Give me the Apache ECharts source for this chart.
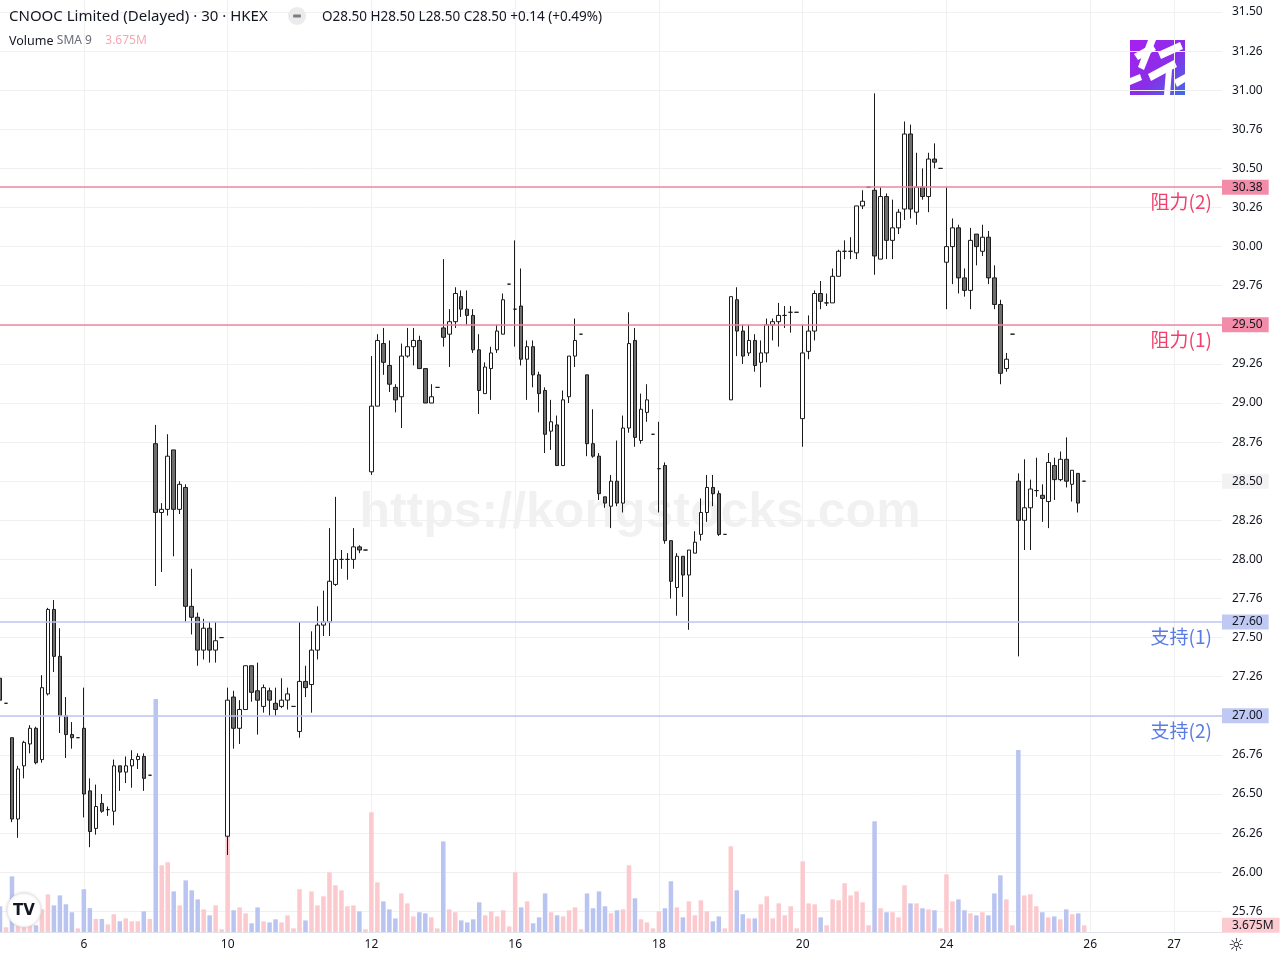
<!DOCTYPE html>
<html>
<head>
<meta charset="utf-8">
<title>CNOOC Limited (Delayed) · 30 · HKEX</title>
<script src="https://cdn.jsdelivr.net/npm/echarts@6/dist/echarts.min.js"></script>
<style>
  html, body { margin: 0; padding: 0; background: #fff; }
  #chart { width: 1280px; height: 960px; }
</style>
</head>
<body>
<div id="chart"></div>
<script>
// 30-minute bars, oldest first
const opens = [
  27.24,27.08,26.86,26.34,26.68,26.82,26.92,26.72,27.14,27.68,
  27.38,27.00,26.88,26.86,26.92,26.52,26.28,26.44,26.40,26.39,
  26.68,26.64,26.68,26.72,26.74,26.62,28.74,28.30,28.32,28.70,
  28.32,28.46,27.70,27.63,27.42,27.56,27.42,27.50,26.23,27.12,
  26.92,27.04,27.32,27.16,27.06,27.16,27.08,27.06,27.10,27.06,
  26.90,27.22,27.20,27.42,27.58,27.60,27.84,28.00,28.00,28.00,
  28.08,28.06,28.56,28.98,29.38,29.24,29.10,29.04,29.30,29.36,
  29.40,29.22,29.00,29.10,29.48,29.44,29.52,29.68,29.60,29.56,
  29.34,29.06,29.22,29.34,29.44,29.76,29.60,29.62,29.28,29.36,
  29.18,29.08,28.82,28.86,28.60,29.04,29.30,29.44,29.18,28.74,
  28.66,28.40,28.34,28.50,28.36,28.84,29.40,28.76,28.94,28.80,
  28.58,28.60,28.12,27.82,28.02,27.90,28.04,28.16,28.30,28.46,
  28.42,28.16,29.02,29.66,29.46,29.32,29.40,29.26,29.32,29.50,
  29.52,29.56,29.58,29.58,28.90,29.33,29.46,29.70,29.64,29.64,
  29.81,29.97,29.97,29.96,30.26,30.38,30.36,29.92,30.32,30.04,
  30.12,30.24,30.72,30.22,30.38,30.32,30.56,30.50,29.90,30.00,
  30.12,29.80,29.72,30.08,29.97,30.06,29.80,29.63,29.22,29.44,
  28.50,28.25,28.33,28.44,28.41,28.37,28.60,28.51,28.64,28.48,
  28.55,28.50
];
const closes = [
  27.10,27.08,26.34,26.66,26.83,26.92,26.70,27.18,27.68,27.38,
  27.00,26.88,26.86,26.86,26.50,26.26,26.42,26.39,26.40,26.68,
  26.64,26.68,26.72,26.74,26.60,26.62,28.30,28.32,28.66,28.32,
  28.48,27.70,27.63,27.42,27.56,27.42,27.48,27.50,27.10,26.92,
  27.04,27.32,27.15,27.10,27.18,27.10,27.04,27.10,27.14,27.06,
  27.22,27.18,27.42,27.58,27.60,27.86,28.00,28.00,28.00,28.08,
  28.06,28.06,28.98,29.40,29.26,29.12,29.02,29.30,29.36,29.40,
  29.22,29.00,29.04,29.10,29.42,29.52,29.70,29.60,29.56,29.34,
  29.08,29.23,29.32,29.46,29.66,29.76,29.60,29.28,29.36,29.18,
  29.06,28.80,28.88,28.60,29.02,29.30,29.40,29.44,28.74,28.66,
  28.42,28.36,28.50,28.36,28.84,29.38,28.78,28.96,29.02,28.80,
  28.58,28.12,27.86,28.02,27.90,28.06,28.11,28.30,28.46,28.42,
  28.16,28.16,29.68,29.46,29.30,29.40,29.24,29.32,29.50,29.52,
  29.56,29.56,29.58,29.58,29.32,29.46,29.70,29.65,29.64,29.81,
  29.97,29.97,29.97,30.26,30.29,30.38,29.94,30.32,30.04,30.12,
  30.22,30.72,30.24,30.38,30.32,30.56,30.54,30.50,30.00,30.12,
  29.80,29.72,30.04,30.00,30.06,29.80,29.63,29.19,29.28,29.44,
  28.25,28.33,28.45,28.44,28.39,28.62,28.51,28.64,28.50,28.57,
  28.36,28.50
];
const highs = [
  27.40,27.08,26.86,26.68,26.84,26.94,26.93,27.26,27.69,27.74,
  27.56,27.12,26.96,26.86,27.18,26.60,26.56,26.50,26.42,26.72,
  26.68,26.74,26.78,26.76,26.76,26.62,28.86,28.36,28.80,28.70,
  28.50,28.48,27.94,27.66,27.62,27.60,27.60,27.50,27.18,27.16,
  27.10,27.32,27.32,27.34,27.20,27.18,27.18,27.24,27.18,27.06,
  27.60,27.32,27.54,27.70,27.80,28.20,28.40,28.06,28.04,28.20,
  28.09,28.06,29.30,29.44,29.48,29.40,29.12,29.38,29.48,29.48,
  29.43,29.22,29.12,29.10,29.92,29.60,29.74,29.72,29.72,29.60,
  29.44,29.26,29.36,29.50,29.70,29.76,30.04,29.86,29.40,29.40,
  29.20,29.10,29.02,28.92,29.08,29.30,29.54,29.44,29.18,28.96,
  28.68,28.40,28.54,28.76,28.92,29.58,29.48,29.06,29.12,28.80,
  28.88,28.62,28.12,28.04,28.02,28.06,28.18,28.39,28.54,28.54,
  28.44,28.16,29.68,29.74,29.50,29.50,29.44,29.40,29.54,29.54,
  29.64,29.62,29.62,29.58,29.50,29.56,29.72,29.78,29.70,29.86,
  29.98,30.04,30.06,30.26,30.36,30.38,30.98,30.38,30.34,30.30,
  30.24,30.80,30.78,30.60,30.50,30.60,30.66,30.50,30.38,30.18,
  30.14,29.86,30.12,30.08,30.14,30.10,29.88,29.66,29.32,29.44,
  28.55,28.64,28.51,28.65,28.48,28.68,28.65,28.69,28.78,28.57,
  28.55,28.50
];
const lows = [
  27.02,27.08,26.32,26.22,26.60,26.76,26.69,26.70,27.13,27.28,
  26.89,26.73,26.79,26.86,26.35,26.16,26.24,26.38,26.36,26.30,
  26.52,26.57,26.54,26.66,26.52,26.62,27.83,27.92,28.28,28.02,
  28.29,27.60,27.52,27.32,27.36,27.34,27.34,27.50,26.11,26.79,
  26.82,27.04,27.09,26.88,27.02,27.00,27.00,27.05,27.04,27.06,
  26.86,27.12,27.02,27.36,27.51,27.51,27.83,27.94,27.87,27.94,
  28.04,28.06,28.54,28.98,29.18,29.07,28.94,28.84,29.29,29.24,
  29.22,29.00,29.00,29.10,29.36,29.23,29.48,29.55,29.50,29.32,
  28.93,29.06,29.02,29.32,29.44,29.76,29.36,29.24,29.02,29.10,
  28.94,28.68,28.70,28.60,28.60,29.00,29.23,29.44,28.66,28.65,
  28.38,28.33,28.20,28.34,28.30,28.81,28.72,28.74,28.88,28.80,
  28.30,28.10,27.75,27.64,27.76,27.55,28.04,28.12,28.24,28.34,
  28.15,28.16,29.02,29.30,29.25,29.30,29.20,29.10,29.26,29.40,
  29.36,29.48,29.45,29.58,28.72,29.28,29.40,29.60,29.62,29.64,
  29.81,29.92,29.92,29.92,30.24,30.38,29.82,29.92,29.92,29.92,
  30.08,30.17,30.18,30.14,30.30,30.22,30.50,30.50,29.60,29.76,
  29.70,29.68,29.60,29.88,29.94,29.76,29.60,29.12,29.20,29.44,
  27.38,28.06,28.06,28.40,28.24,28.20,28.38,28.50,28.46,28.37,
  28.30,28.50
];
// volume in millions of shares
const volumes = [
  14.2,2.6,30.7,11.0,8.3,5.5,3.7,12.5,20.8,14.7,
  20.2,15.3,10.9,2.0,23.6,13.2,7.2,7.2,4.2,9.8,
  5.9,7.5,5.9,5.9,11.4,7.2,128.6,36.8,38.5,22.4,
  14.7,28.5,23.0,18.0,12.5,9.2,14.7,1.5,66.2,12.0,
  13.6,10.3,4.8,13.6,5.9,5.3,7.0,5.3,9.2,2.0,
  23.6,6.4,22.4,14.7,19.7,32.9,25.8,23.0,14.2,14.7,
  11.4,1.5,66.1,27.4,16.9,12.5,7.5,21.3,15.8,8.6,
  10.9,10.3,8.1,2.0,50.0,12.5,10.9,6.4,5.3,7.0,
  16.4,9.2,11.4,8.6,12.0,3.1,32.9,13.6,16.9,4.8,
  8.1,21.3,10.9,9.2,8.6,12.0,13.6,1.5,21.3,13.1,
  22.4,14.2,10.3,12.0,12.5,36.8,18.6,7.0,5.3,2.0,
  11.4,13.1,28.0,13.6,8.1,16.9,9.2,17.5,11.4,5.9,
  8.6,2.0,47.3,23.0,9.8,7.5,7.5,15.3,19.7,7.5,
  15.8,9.2,14.2,2.0,39.0,15.8,15.3,8.1,3.7,18.0,
  17.5,26.9,20.2,22.4,16.4,3.7,61.1,13.1,10.9,10.9,
  8.1,25.8,15.8,15.8,13.1,12.5,12.0,2.0,31.8,16.9,
  18.0,12.0,10.3,9.2,10.9,9.2,21.3,31.3,18.0,3.7,
  100.5,20.2,20.8,14.2,10.9,8.1,8.6,7.0,12.5,9.8,
  10.3,3.675
];

// time axis: one slot per bar, plus empty slots to the right
const slotCount = 205;
const dayLabels = ['6', '10', '12', '16', '18', '20', '24', '26', '27'];
const dayFirstSlot = [14, 38, 62, 86, 110, 134, 158, 182, 196];

// price axis ticks as TradingView prints them
const priceTicks = [25.75,26.00,26.25,26.50,26.75,27.00,27.25,27.50,27.75,28.00,28.25,28.50,
  28.75,29.00,29.25,29.50,29.75,30.00,30.25,30.50,30.75,31.00,31.25,31.50];
const priceTickLabels = ['25.76','26.00','26.26','26.50','26.76','27.00','27.26','27.50','27.76','28.00','28.26','28.50',
  '28.76','29.00','29.26','29.50','29.76','30.00','30.26','30.50','30.76','31.00','31.26','31.50'];

// drawn levels
const levelValues = [30.38, 29.50, 27.60, 27.00];
const levelNames = ['阻力(2)', '阻力(1)', '支持(1)', '支持(2)'];
const levelKinds = ['res', 'res', 'sup', 'sup'];

const PINK_LINE = '#ef86a2', PINK_TAG = '#f28ca8', PINK_TEXT = '#f23f6c';
const BLUE_LINE = '#bcc6f2', BLUE_TAG = '#bfc9f3', BLUE_TEXT = '#5a7be6';
const VOL_UP = '#fbc9ce', VOL_DOWN = '#b9c5f0';
const INK = '#131722';
const NONE = 'rgba(0,0,0,0)';

const cats = [];
for (let i = 0; i < slotCount; i++) cats.push(String(i));

const candleData = opens.map((o, i) => [o, closes[i], lows[i], highs[i]]);
const volData = volumes.map((v, i) => ({
  value: v,
  itemStyle: { color: closes[i] >= opens[i] ? VOL_UP : VOL_DOWN }
}));

const last = opens.length - 1;
const lastClose = closes[last];
const change = closes[last] - closes[last - 1];
const changePct = change / closes[last - 1] * 100;
const lastVol = volumes[last];

function isDaySlot(idx) { return dayFirstSlot.indexOf(idx) >= 0; }

const levelLines = levelValues.map((v, k) => ({
  yAxis: v,
  lineStyle: { color: levelKinds[k] === 'res' ? PINK_LINE : BLUE_LINE, width: 1.5, type: 'solid' },
  label: {
    show: true, position: 'end', distance: 0,
    formatter: v.toFixed(2),
    backgroundColor: levelKinds[k] === 'res' ? PINK_TAG : BLUE_TAG,
    color: INK, fontSize: 12, fontFamily: '"Noto Sans"',
    padding: [2, 6, 1, 10]
  }
}));
const levelTexts = levelValues.map((v, k) => ({
  yAxis: v,
  lineStyle: { color: NONE, width: 1 },
  label: {
    show: true, position: 'insideEndBottom', distance: [10, 5],
    formatter: levelNames[k],
    color: levelKinds[k] === 'res' ? PINK_TEXT : BLUE_TEXT,
    fontSize: 19, fontFamily: '"Noto Sans CJK SC"'
  }
}));
const lastPriceTag = {
  yAxis: lastClose,
  lineStyle: { color: NONE, width: 1 },
  label: {
    show: true, position: 'end', distance: 0,
    formatter: lastClose.toFixed(2),
    backgroundColor: '#f2f2f2', color: INK, fontSize: 12, fontFamily: '"Noto Sans"',
    padding: [2, 6, 1, 10]
  }
};

const chart = echarts.init(document.getElementById('chart'));

const option = {
  animation: false,
  backgroundColor: '#ffffff',
  textStyle: { fontFamily: '"Noto Sans"' },
  grid: [
    { left: 0, right: 58, top: 12, bottom: 9.6 },   // price
    { left: 0, right: 58, top: 699, bottom: 28 },   // volume
    { left: 0, right: 58, top: 0, bottom: 28 }      // time axis + vertical grid
  ],
  xAxis: [
    { type: 'category', gridIndex: 0, data: cats, boundaryGap: false, show: false },
    { type: 'category', gridIndex: 1, data: cats, boundaryGap: false, show: false },
    {
      type: 'category', gridIndex: 2, data: cats, boundaryGap: false,
      axisLine: { show: true, lineStyle: { color: '#e0e3eb', width: 1 } },
      axisTick: { show: false },
      axisLabel: {
        interval: (idx) => isDaySlot(idx),
        formatter: (val, idx) => dayLabels[dayFirstSlot.indexOf(idx)] || '',
        color: INK, fontSize: 12, margin: 7
      },
      splitLine: {
        show: true,
        interval: (idx) => isDaySlot(idx),
        lineStyle: { color: '#f0f0f0', width: 1 }
      }
    }
  ],
  yAxis: [
    {
      type: 'value', gridIndex: 0, position: 'right',
      min: 25.5, max: 31.5, interval: 0.25,
      axisLine: { show: false }, axisTick: { show: false },
      axisLabel: {
        color: INK, fontSize: 12, margin: 10, showMinLabel: false,
        formatter: (v) => {
          const k = priceTicks.findIndex(t => Math.abs(t - v) < 0.001);
          return k < 0 ? '' : priceTickLabels[k];
        }
      },
      splitLine: { show: true, showMinLine: false, lineStyle: { color: '#f0f0f0', width: 1 } }
    },
    { type: 'value', gridIndex: 1, min: 0, max: (e) => e.max, show: false },
    { type: 'value', gridIndex: 2, show: false }
  ],
  series: [
    {
      type: 'candlestick',
      xAxisIndex: 0, yAxisIndex: 0,
      data: candleData,
      barWidth: 4,
      itemStyle: {
        color: '#ffffff', color0: '#6e6e6e',
        borderColor: '#1b1b1b', borderColor0: '#1b1b1b',
        borderWidth: 1
      },
      markLine: {
        symbol: 'none', silent: true, animation: false,
        data: levelLines.concat(levelTexts, [lastPriceTag])
      },
      z: 3
    },
    {
      type: 'bar',
      xAxisIndex: 1, yAxisIndex: 1,
      data: volData,
      barWidth: 4.5,
      markLine: {
        symbol: 'none', silent: true, animation: false,
        data: [{
          yAxis: lastVol,
          lineStyle: { color: NONE, width: 1 },
          label: {
            show: true, position: 'end', distance: 0,
            formatter: lastVol.toFixed(3) + 'M',
            backgroundColor: '#fccbd0', color: INK, fontSize: 12,
            padding: [2, 6, 1, 10]
          }
        }]
      },
      z: 2
    }
  ],
  graphic: {
    elements: [
      {
        type: 'text', x: 640, y: 513, z: 0, silent: true,
        style: {
          text: 'https://kongstocks.com',
          font: 'bold 50px "Liberation Sans"',
          fill: 'rgba(0,0,0,0.055)',
          align: 'center', verticalAlign: 'middle'
        }
      },
      {
        type: 'text', x: 9, y: 17, z: 50,
        style: {
          text: 'CNOOC Limited (Delayed) · 30 · HKEX',
          font: '15px "Noto Sans"', fill: INK, verticalAlign: 'middle'
        }
      },
      { type: 'circle', shape: { cx: 297, cy: 16, r: 9 }, style: { fill: '#ebebeb' }, z: 50 },
      { type: 'rect', shape: { x: 293, y: 14.5, width: 8, height: 3, r: 1 }, style: { fill: '#7a7d86' }, z: 51 },
      {
        type: 'text', x: 322, y: 17, z: 50,
        style: {
          text: 'O' + opens[last].toFixed(2) + ' H' + highs[last].toFixed(2) +
                ' L' + lows[last].toFixed(2) + ' C' + closes[last].toFixed(2) +
                ' ' + (change >= 0 ? '+' : '') + change.toFixed(2) +
                ' (' + (changePct >= 0 ? '+' : '') + changePct.toFixed(2) + '%)',
          font: '13.5px "Noto Sans"', fill: INK, verticalAlign: 'middle'
        }
      },
      {
        type: 'text', x: 9, y: 41, z: 50,
        style: {
          text: '{a|Volume} {b|SMA 9}    {c|' + lastVol.toFixed(3) + 'M}',
          verticalAlign: 'middle',
          rich: {
            a: { font: '12.5px "Noto Sans"', fill: INK },
            b: { font: '12px "Noto Sans"', fill: '#6a6d78' },
            c: { font: '12px "Noto Sans"', fill: '#f7a8b3' }
          }
        }
      },
      {
        type: 'group', x: 1130, y: 40, z: 60,
        children: [
          {
            type: 'rect', shape: { x: 0, y: 0, width: 55, height: 55 },
            style: {
              fill: new echarts.graphic.LinearGradient(0, 0, 1, 1, [
                { offset: 0, color: '#a81ff0' },
                { offset: 0.55, color: '#8a2ee8' },
                { offset: 1, color: '#3f6de6' }
              ])
            }
          },
          { type: 'polygon', shape: { points: [[4, 14], [22, 4], [26, 10], [8, 20]] }, style: { fill: '#fff' } },
          { type: 'polygon', shape: { points: [[18, 0], [26, 0], [14, 30], [8, 27]] }, style: { fill: '#fff' } },
          { type: 'polygon', shape: { points: [[28, 12], [50, 2], [53, 9], [31, 19]] }, style: { fill: '#fff' } },
          { type: 'polygon', shape: { points: [[18, 34], [44, 20], [47, 27], [21, 41]] }, style: { fill: '#fff' } },
          { type: 'polygon', shape: { points: [[36, 30], [42, 30], [40, 55], [34, 55]] }, style: { fill: '#fff' } },
          { type: 'polygon', shape: { points: [[44, 40], [55, 34], [55, 42], [47, 47]] }, style: { fill: '#fff' } },
          { type: 'polygon', shape: { points: [[0, 38], [10, 34], [12, 40], [0, 45]] }, style: { fill: '#fff' } }
        ]
      },
      {
        type: 'circle', shape: { cx: 24, cy: 910, r: 17 }, z: 60,
        style: { fill: '#ffffff', stroke: '#e8e8e8', lineWidth: 1, shadowBlur: 3, shadowColor: 'rgba(0,0,0,0.12)' }
      },
      {
        type: 'text', x: 24, y: 911, z: 61,
        style: { text: 'TV', font: 'bold 15px "DejaVu Sans"', fill: INK, align: 'center', verticalAlign: 'middle' }
      },
      {
        type: 'text', x: 1236, y: 946, z: 61,
        style: { text: '☼', font: '18px "DejaVu Sans"', fill: INK, align: 'center', verticalAlign: 'middle' }
      }
    ]
  }
};

chart.setOption(option);
</script>
</body>
</html>
